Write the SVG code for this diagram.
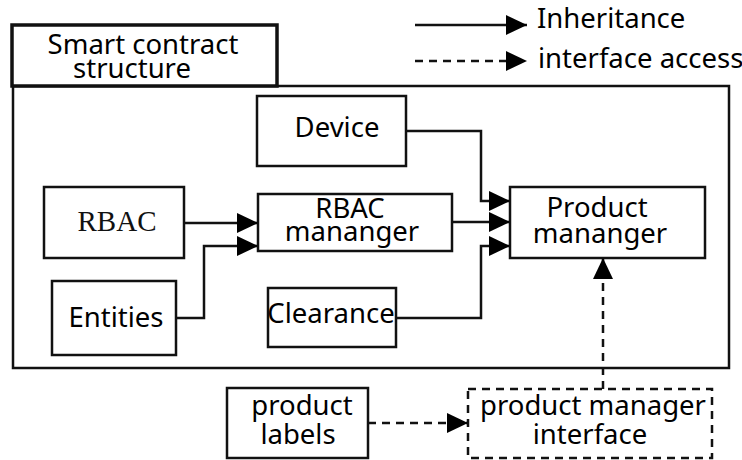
<svg xmlns="http://www.w3.org/2000/svg" width="742" height="460" viewBox="0 0 742 460">
  <style>
    .box { fill: #fff; stroke: #111; stroke-width: 2.5; }
    .dbox { fill: #fff; stroke: #111; stroke-width: 2.5; stroke-dasharray: 8 6; }
    .lbl { font-family: "Noto Sans", "Open Sans", sans-serif; font-size: 27.5px; fill: #000; text-anchor: middle; }
    .serif { font-family: "Liberation Serif", serif; font-size: 29px; fill: #111; text-anchor: middle; }
    .edge { fill: none; stroke: #111; stroke-width: 2.5; }
    .dash { fill: none; stroke: #111; stroke-width: 2.5; stroke-dasharray: 8 6; }
  </style>
  <defs>
    <marker id="tri" markerUnits="userSpaceOnUse" markerWidth="22" markerHeight="20" refX="21" refY="10" orient="auto">
      <path d="M0,0 L21,10 L0,20 Z" fill="#000"/>
    </marker>
  </defs>

  <rect width="742" height="460" fill="#fff"/>

  <!-- container -->
  <g id="container">
    <rect x="13" y="86" width="716" height="282" class="box"/>
  </g>
  <g id="title">
    <rect x="12" y="25" width="265" height="61" fill="#fff" stroke="#111" stroke-width="3.5"/>
    <text class="lbl" x="143" y="54" font-size="28.5">Smart contract</text>
    <text class="lbl" x="132" y="78" font-size="28.5">structure</text>
  </g>

  <!-- legend -->
  <g id="legend">
    <line x1="415" y1="25" x2="527" y2="25" class="edge" marker-end="url(#tri)"/>
    <text x="537" y="28" class="lbl" style="text-anchor:start">Inheritance</text>
    <line x1="415" y1="61" x2="527" y2="61" class="dash" marker-end="url(#tri)"/>
    <text x="538" y="68" class="lbl" style="text-anchor:start">interface access</text>
  </g>

  <!-- nodes -->
  <g id="device">
    <rect x="257" y="96" width="149" height="70" class="box"/>
    <text class="lbl" x="337" y="137">Device</text>
  </g>
  <g id="rbac">
    <rect x="44" y="187" width="140" height="71" class="box"/>
    <text class="serif" x="117" y="231">RBAC</text>
  </g>
  <g id="entities">
    <rect x="52" y="281" width="124" height="74" class="box"/>
    <text class="lbl" x="116" y="327">Entities</text>
  </g>
  <g id="rbac-manager">
    <rect x="258" y="194" width="194" height="57" class="box"/>
    <text class="lbl" x="350" y="218">RBAC</text>
    <text class="lbl" x="352" y="241">mananger</text>
  </g>
  <g id="clearance">
    <rect x="268" y="288" width="128" height="59" class="box"/>
    <text class="lbl" x="331" y="323">Clearance</text>
  </g>
  <g id="product-manager">
    <rect x="510" y="187" width="195" height="71" class="box"/>
    <text class="lbl" x="597" y="217">Product</text>
    <text class="lbl" x="600" y="243">mananger</text>
  </g>
  <g id="product-labels">
    <rect x="227" y="388" width="141" height="70" class="box"/>
    <text class="lbl" x="302" y="415">product</text>
    <text class="lbl" x="298" y="444">labels</text>
  </g>
  <g id="pm-interface">
    <rect x="468" y="389" width="244" height="69" class="dbox"/>
    <text class="lbl" x="593" y="415">product manager</text>
    <text class="lbl" x="590" y="444">interface</text>
  </g>

  <!-- connectors -->
  <g id="connectors">
    <path d="M184,223 H258" class="edge" marker-end="url(#tri)"/>
    <path d="M176,318 H204 V246 H258" class="edge" marker-end="url(#tri)"/>
    <path d="M406,131 H481 V201 H510" class="edge" marker-end="url(#tri)"/>
    <path d="M452,222 H510" class="edge" marker-end="url(#tri)"/>
    <path d="M396,318 H481 V246 H510" class="edge" marker-end="url(#tri)"/>
    <path d="M603,389 V258" class="dash" marker-end="url(#tri)"/>
    <path d="M368,423 H468" class="dash" marker-end="url(#tri)"/>
  </g>
</svg>
